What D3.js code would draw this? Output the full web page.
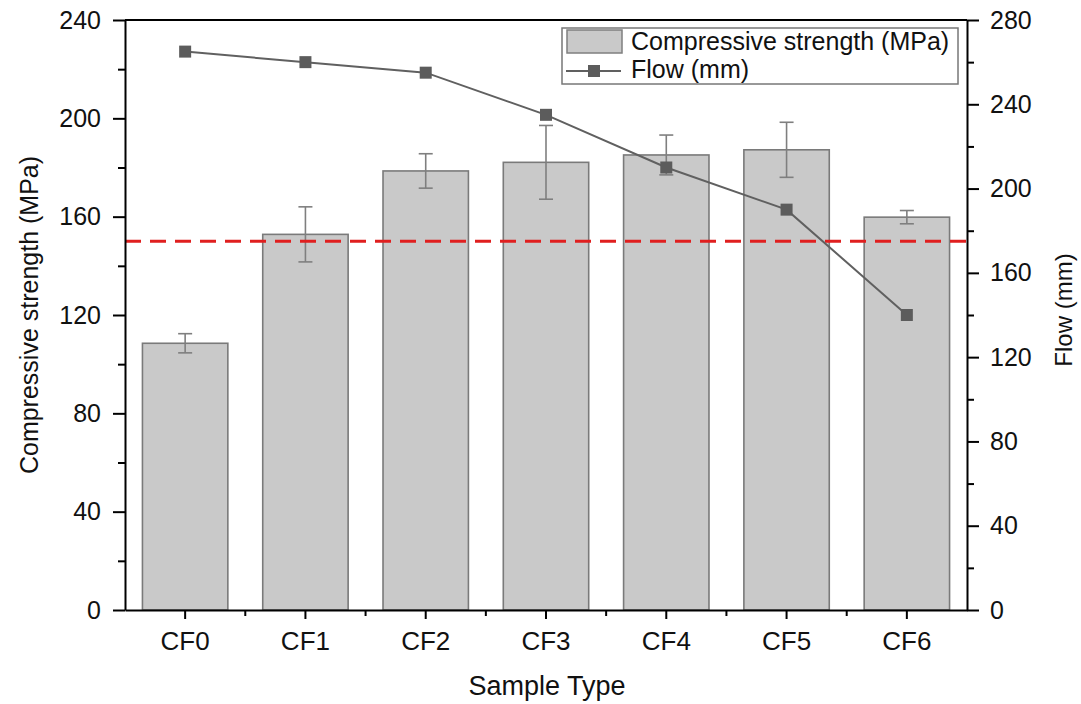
<!DOCTYPE html>
<html>
<head>
<meta charset="utf-8">
<script src="https://cdn.jsdelivr.net/npm/d3@7"></script>
<style>
  html, body { margin: 0; padding: 0; background: #fff; }
  svg { display: block; font-family: "Liberation Sans", Arial, sans-serif; }
</style>
</head>
<body>
<svg id="chart" width="1081" height="704"></svg>
<script>
// Sample types and measured results
const categories = ["CF0", "CF1", "CF2", "CF3", "CF4", "CF5", "CF6"];
const strength = [108.5, 152.8, 178.6, 182.1, 185.1, 187.2, 159.8];      // MPa
const strengthErr = [3.9, 11.2, 7.0, 15.0, 8.1, 11.2, 2.7];               // MPa
const flow = [265, 260, 255, 235, 210, 190, 140];                          // mm
const leftTicks = [0, 40, 80, 120, 160, 200, 240];
const rightTicks = [0, 40, 80, 120, 160, 200, 240, 280];
const targetStrength = 150;  // MPa reference level

const FONT = "'Liberation Sans', Arial, sans-serif";
const svg = d3.select("#chart");
const x0 = 125, x1 = 967, y0 = 610, y1 = 20;

const x = d3.scaleBand().domain(categories).range([x0, x1]).paddingInner(0.29).paddingOuter(0.145);
const xc = d3.scaleBand().domain(categories).range([x0, x1]).padding(0);
const yL = d3.scaleLinear().domain([0, 240]).range([y0, y1]);
const yR = d3.scaleLinear().domain([0, 280]).range([y0, y1]);

// Bars
svg.append("g").selectAll("rect").data(categories).join("rect")
  .attr("x", d => x(d))
  .attr("width", x.bandwidth())
  .attr("y", (d, i) => yL(strength[i]))
  .attr("height", (d, i) => yL(0) - yL(strength[i]))
  .attr("fill", "#c9c9c9")
  .attr("stroke", "#7a7a7a")
  .attr("stroke-width", 1.6);

// Error bars
const eb = svg.append("g").attr("stroke", "#7f7f7f").attr("stroke-width", 1.6).attr("fill", "none");
categories.forEach((c, i) => {
  const cx = x(c) + x.bandwidth() / 2;
  const top = yL(strength[i] + strengthErr[i]);
  const bot = yL(strength[i] - strengthErr[i]);
  eb.append("line").attr("x1", cx).attr("x2", cx).attr("y1", top).attr("y2", bot);
  eb.append("line").attr("x1", cx - 7).attr("x2", cx + 7).attr("y1", top).attr("y2", top);
  eb.append("line").attr("x1", cx - 7).attr("x2", cx + 7).attr("y1", bot).attr("y2", bot);
});

// Reference strength level
svg.append("line")
  .attr("x1", x0).attr("x2", x1)
  .attr("y1", yL(targetStrength)).attr("y2", yL(targetStrength))
  .attr("stroke", "#e01f1f").attr("stroke-width", 3)
  .attr("stroke-dasharray", "16 9");

// Flow line with square markers
const line = d3.line()
  .x((d, i) => x(categories[i]) + x.bandwidth() / 2)
  .y(d => yR(d));
svg.append("path").datum(flow)
  .attr("d", line)
  .attr("fill", "none")
  .attr("stroke", "#606060")
  .attr("stroke-width", 2);
svg.append("g").selectAll("rect").data(flow).join("rect")
  .attr("x", (d, i) => x(categories[i]) + x.bandwidth() / 2 - 6)
  .attr("y", d => yR(d) - 6)
  .attr("width", 12).attr("height", 12)
  .attr("fill", "#5c5c5c");

// Axes
function styleAxis(g, size) {
  g.selectAll(".domain").attr("stroke", "#000").attr("stroke-width", 2);
  g.selectAll(".tick line").attr("stroke", "#000").attr("stroke-width", 2);
  g.selectAll(".tick text").attr("font-size", size).attr("fill", "#111").attr("font-family", FONT);
}

const minorL = d3.range(20, 240, 40);
const minorR = d3.range(20, 280, 40);

// Left axis
const gL = svg.append("g").attr("transform", `translate(${x0},0)`)
  .call(d3.axisLeft(yL).tickValues(leftTicks).tickSize(12).tickPadding(12).tickSizeOuter(0));
styleAxis(gL, 25);
svg.append("g").attr("transform", `translate(${x0},0)`)
  .call(d3.axisLeft(yL).tickValues(minorL).tickSize(7).tickFormat("").tickSizeOuter(0))
  .call(g => { g.select(".domain").remove(); g.selectAll("line").attr("stroke", "#000").attr("stroke-width", 2); });

// Right axis
const gR = svg.append("g").attr("transform", `translate(${x1},0)`)
  .call(d3.axisRight(yR).tickValues(rightTicks).tickSize(12).tickPadding(11).tickSizeOuter(0));
styleAxis(gR, 25);
svg.append("g").attr("transform", `translate(${x1},0)`)
  .call(d3.axisRight(yR).tickValues(minorR).tickSize(7).tickFormat("").tickSizeOuter(0))
  .call(g => { g.select(".domain").remove(); g.selectAll("line").attr("stroke", "#000").attr("stroke-width", 2); });

// Bottom axis: labelled ticks at centres, short ticks between
const gB = svg.append("g").attr("transform", `translate(0,${y0})`)
  .call(d3.axisBottom(xc).tickSize(9).tickPadding(13).tickSizeOuter(0));
styleAxis(gB, 26);
const between = categories.slice(1).map(c => xc(c));
svg.append("g").selectAll("line").data(between).join("line")
  .attr("x1", d => d).attr("x2", d => d)
  .attr("y1", y0).attr("y2", y0 + 6)
  .attr("stroke", "#000").attr("stroke-width", 2);

// Top frame
svg.append("line").attr("x1", x0).attr("x2", x1).attr("y1", y1).attr("y2", y1)
  .attr("stroke", "#000").attr("stroke-width", 2);

// Axis titles
svg.append("text").attr("x", 547).attr("y", 695)
  .attr("text-anchor", "middle").attr("font-size", 27).attr("fill", "#111")
  .text("Sample Type");
svg.append("text")
  .attr("transform", `translate(38,315) rotate(-90)`)
  .attr("text-anchor", "middle").attr("font-size", 25).attr("fill", "#111")
  .text("Compressive strength (MPa)");
svg.append("text")
  .attr("transform", `translate(1072,310) rotate(-90)`)
  .attr("text-anchor", "middle").attr("font-size", 24).attr("fill", "#111")
  .text("Flow (mm)");

// Legend
const lg = svg.append("g");
lg.append("rect").attr("x", 562).attr("y", 28).attr("width", 396).attr("height", 56)
  .attr("fill", "#fff").attr("stroke", "#777").attr("stroke-width", 1.5);
lg.append("rect").attr("x", 567).attr("y", 30).attr("width", 55).attr("height", 23)
  .attr("fill", "#c9c9c9").attr("stroke", "#7f7f7f").attr("stroke-width", 1.5);
lg.append("text").attr("x", 631).attr("y", 50).attr("font-size", 25).attr("fill", "#111")
  .text("Compressive strength (MPa)");
lg.append("line").attr("x1", 566).attr("x2", 621).attr("y1", 71).attr("y2", 71)
  .attr("stroke", "#606060").attr("stroke-width", 2);
lg.append("rect").attr("x", 588).attr("y", 65).attr("width", 12).attr("height", 12).attr("fill", "#5c5c5c");
lg.append("text").attr("x", 631).attr("y", 78).attr("font-size", 25).attr("fill", "#111")
  .text("Flow (mm)");
</script>
</body>
</html>
